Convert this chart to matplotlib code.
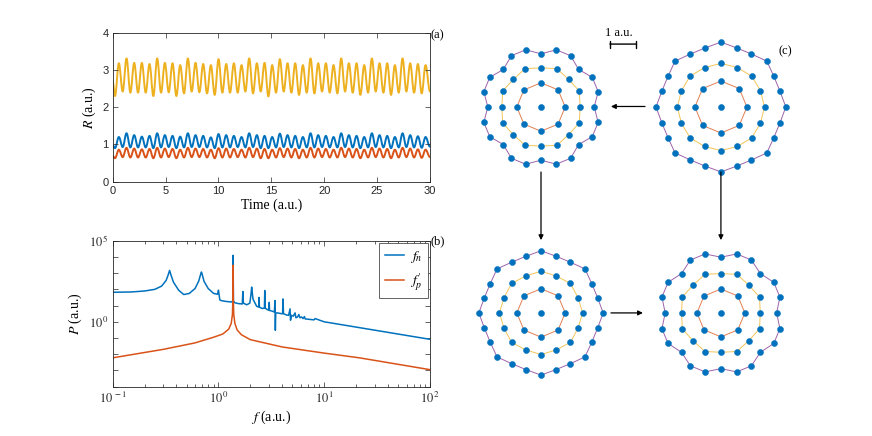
import numpy as np
import matplotlib
matplotlib.use('Agg')
import matplotlib.pyplot as plt
from matplotlib.path import Path
from matplotlib.patches import PathPatch
from matplotlib.ticker import FixedLocator, FuncFormatter, NullFormatter

plt.rcParams['font.family'] = 'Liberation Sans'
plt.rcParams['mathtext.fontset'] = 'stix'

# MATLAB default colours
c_blue = '#0072BD'
c_orange = '#D95319'
c_yellow = '#EDB120'
c_purple = '#7E2F8E'
c_axis = '#262626'

#####################
# (a) R(t): extrema (trough, peak per period)
#####################
t_range = [0, 30]
t_ext_first = 0.22
t_ext_last = 29.58

yel_start, yel_end = 2.68, 2.42
yel_trough = [2.30, 2.42, 2.39, 2.39, 2.39, 2.30, 2.39, 2.40, 2.30, 2.37,
              2.42, 2.40, 2.37, 2.33, 2.39, 2.39, 2.39, 2.42, 2.37, 2.42,
              2.29, 2.39, 2.42, 2.39, 2.33, 2.39, 2.37, 2.42, 2.39, 2.37,
              2.42, 2.39, 2.33, 2.39, 2.42, 2.39, 2.33, 2.39, 2.42, 2.39, 2.37]
yel_peak = [3.18, 3.31, 3.19, 3.19, 3.16, 3.31, 3.19, 3.18, 3.13, 3.31,
            3.19, 3.16, 3.13, 3.29, 3.16, 3.18, 3.13, 3.31, 3.18, 3.19,
            3.13, 3.29, 3.18, 3.18, 3.13, 3.31, 3.18, 3.18, 3.13, 3.31,
            3.18, 3.18, 3.13, 3.31, 3.18, 3.18, 3.13, 3.31, 3.18, 3.16, 3.13]

blu_start, blu_end = 0.98, 0.94
blu_trough = [0.90, 0.93, 0.92, 0.92, 0.92, 0.90, 0.92, 0.93, 0.90, 0.92,
              0.93, 0.93, 0.92, 0.90, 0.92, 0.92, 0.93, 0.92, 0.93, 0.90,
              0.90, 0.92, 0.93, 0.92, 0.90, 0.92, 0.92, 0.93, 0.92, 0.92,
              0.93, 0.92, 0.90, 0.92, 0.93, 0.92, 0.90, 0.92, 0.93, 0.92, 0.91]
blu_peak = [1.20, 1.30, 1.25, 1.21, 1.23, 1.30, 1.25, 1.23, 1.21, 1.30,
            1.25, 1.23, 1.19, 1.28, 1.25, 1.23, 1.20, 1.30, 1.25, 1.23,
            1.20, 1.29, 1.25, 1.23, 1.20, 1.30, 1.25, 1.23, 1.20, 1.30,
            1.25, 1.23, 1.20, 1.30, 1.25, 1.23, 1.20, 1.30, 1.25, 1.22, 1.20]

ora_start, ora_end = 0.69, 0.66
ora_trough = [0.63, 0.66, 0.65, 0.65, 0.65, 0.63, 0.65, 0.66, 0.63, 0.65,
              0.66, 0.66, 0.65, 0.63, 0.65, 0.65, 0.66, 0.65, 0.66, 0.63,
              0.63, 0.65, 0.66, 0.65, 0.63, 0.65, 0.65, 0.66, 0.65, 0.65,
              0.66, 0.65, 0.63, 0.65, 0.66, 0.65, 0.63, 0.65, 0.66, 0.65, 0.64]
ora_peak = [0.86, 0.91, 0.89, 0.87, 0.88, 0.91, 0.89, 0.88, 0.86, 0.91,
            0.89, 0.88, 0.86, 0.90, 0.89, 0.88, 0.86, 0.91, 0.89, 0.88,
            0.86, 0.90, 0.89, 0.88, 0.86, 0.91, 0.89, 0.88, 0.86, 0.91,
            0.89, 0.88, 0.86, 0.91, 0.89, 0.88, 0.86, 0.91, 0.89, 0.87, 0.86]

#####################
# (b) spectra, f and log10(P)
#####################
fn_f = [0.1, 0.15, 0.2, 0.25, 0.29, 0.32, 0.335, 0.345, 0.355, 0.375,
        0.42, 0.47, 0.53, 0.6, 0.65, 0.68, 0.69, 0.70, 0.73, 0.8,
        0.9, 0.98, 1.0, 1.03, 1.07, 1.2, 1.33, 1.365, 1.375, 1.385,
        1.42, 1.55, 1.68, 1.70, 1.72, 1.85, 1.98, 2.03, 2.06, 2.12,
        2.3, 2.40, 2.42, 2.44, 2.6, 2.72, 2.74, 2.76, 2.9, 3.0,
        3.02, 3.04, 3.25, 3.38, 3.42, 3.45, 3.48, 3.6, 3.95, 4.04,
        4.07, 4.12, 4.4, 4.6, 4.75, 4.8, 4.9, 5.1, 5.3, 5.4,
        5.6, 5.75, 5.9, 6.1, 6.3, 6.5, 6.6, 7.5, 8.0, 8.2, 9.5, 10, 100]
fn_logP = [1.82, 1.84, 1.90, 2.00, 2.20, 2.55, 2.90, 3.17, 2.90, 2.45,
           1.95, 1.68, 1.75, 2.05, 2.50, 2.95, 3.07, 2.95, 2.50, 2.05,
           1.75, 1.70, 1.95, 1.35, 1.30, 1.25, 1.22, 1.30, 4.10, 1.30,
           1.18, 1.12, 1.10, 1.87, 1.15, 1.05, 1.15, 1.70, 2.14, 1.40,
           0.95, 0.92, 1.50, 0.90, 0.82, 0.85, 1.93, 0.85, 0.75, 0.72,
           1.20, 0.70, 0.65, 0.60, 1.31, -0.52, 0.55, 0.55, 0.50, 0.50,
           1.41, 0.50, 0.42, 0.40, 0.80, 0.10, 0.40, 0.35, 0.55, 0.25,
           0.30, 0.45, 0.25, 0.30, 0.20, 0.32, 0.18, 0.14, 0.12, 0.20, 0.05, 0.0, -1.08]

fp_f = [0.1, 0.3, 0.6, 0.9, 1.1, 1.25, 1.32, 1.355, 1.368, 1.375,
        1.382, 1.395, 1.43, 1.5, 1.65, 2.0, 4.0, 10, 21.5, 100]
fp_logP = [-2.22, -1.70, -1.30, -0.95, -0.75, -0.45, -0.10, 0.45, 1.30, 3.49,
           1.30, 0.45, -0.10, -0.50, -0.80, -1.10, -1.55, -1.93, -2.22, -2.95]

#####################
# (c) shell clusters 1-8-16-24
#####################
ring_sizes = [8, 16, 24]
ring_colors = [c_orange, c_yellow, c_purple]
cluster_x = [0.0, 6.92, 0.0, 6.92]
cluster_y = [0.0, 0.0, -7.92, -7.92]
ring_radius = [[0.93, 1.55, 2.20],
               [1.00, 1.66, 2.40],
               [0.93, 1.57, 2.30],
               [0.92, 1.56, 2.28]]
ring_warp = [[0.0, -0.03, -0.07],
             [0.0, 0.01, 0.04],
             [0.0, 0.02, 0.04],
             [0.0, -0.03, -0.06]]


def tidy_axes(ax):
    for s in ax.spines.values():
        s.set_color(c_axis)
        s.set_linewidth(0.6)
    ax.tick_params(which='both', direction='in', top=True, right=True,
                   colors=c_axis, width=0.5, labelsize=8, pad=3)
    ax.tick_params(which='major', length=3.5)
    ax.tick_params(which='minor', length=2)


def series(start, trough, peak, end):
    return np.concatenate([[start], np.column_stack((trough, peak)).ravel(), [end]])


def smooth_line(ax, t, y, color, lw=1.4):
    # cubic pieces with flat tangents at each extremum
    verts = [(t[0], y[0])]
    codes = [Path.MOVETO]
    for i in range(len(t) - 1):
        dt = t[i + 1] - t[i]
        verts += [(t[i] + 0.36 * dt, y[i]), (t[i + 1] - 0.36 * dt, y[i + 1]), (t[i + 1], y[i + 1])]
        codes += [Path.CURVE4] * 3
    ax.add_patch(PathPatch(Path(verts, codes), fill=False, edgecolor=color, lw=lw,
                           joinstyle='round', capstyle='round'))


fig = plt.figure(figsize=(8.72, 4.36), dpi=100)

# ---- (a)
ax_a = fig.add_axes([112.7 / 872, 1 - 181.7 / 436, 317.3 / 872, 149 / 436])
t_ext = np.linspace(t_ext_first, t_ext_last, 2 * len(yel_peak))
t = np.concatenate([[t_range[0]], t_ext, [t_range[1]]])

smooth_line(ax_a, t, series(blu_start, blu_trough, blu_peak, blu_end), c_blue)
smooth_line(ax_a, t, series(ora_start, ora_trough, ora_peak, ora_end), c_orange)
smooth_line(ax_a, t, series(yel_start, yel_trough, yel_peak, yel_end), c_yellow)
ax_a.set_xlim(0, 30)
ax_a.set_ylim(0, 4)
ax_a.set_xticks([0, 5, 10, 15, 20, 25, 30])
ax_a.set_yticks([0, 1, 2, 3, 4])
tidy_axes(ax_a)
ax_a.set_xlabel('Time (a.u.)', family='Liberation Serif', fontsize=10, labelpad=2)
ax_a.set_ylabel(r'$R$ (a.u.)', family='Liberation Serif', fontsize=10, labelpad=3)

# ---- (b)
ax_b = fig.add_axes([112.7 / 872, 1 - 386.7 / 436, 317.3 / 872, 146 / 436])
ax_b.plot(fn_f, 10.0 ** np.array(fn_logP), color=c_blue, lw=1.1, label=r'$f_n$')
ax_b.plot(fp_f, 10.0 ** np.array(fp_logP), color=c_orange, lw=1.1, label=r'$f_p^{\prime}$')
ax_b.set_xscale('log')
ax_b.set_yscale('log')
ax_b.set_xlim(0.1, 100)
ax_b.set_ylim(1e-4, 1e5)
ax_b.xaxis.set_major_locator(FixedLocator([0.1, 1, 10, 100]))
ax_b.xaxis.set_minor_locator(FixedLocator([m * 10.0 ** e for e in (-1, 0, 1) for m in range(2, 10)]))
ax_b.yaxis.set_major_locator(FixedLocator([1, 1e5]))
ax_b.yaxis.set_minor_locator(FixedLocator([10.0 ** e for e in range(-4, 5)]))
dec_fmt = FuncFormatter(lambda v, pos: r'$10^{\,%d}$' % int(round(np.log10(v))))
ax_b.xaxis.set_major_formatter(dec_fmt)
ax_b.yaxis.set_major_formatter(dec_fmt)
ax_b.xaxis.set_minor_formatter(NullFormatter())
ax_b.yaxis.set_minor_formatter(NullFormatter())
tidy_axes(ax_b)
ax_b.tick_params(labelsize=9)
ax_b.yaxis.set_tick_params(which='minor', length=3.5)
ax_b.set_xlabel(r'$f$ (a.u.)', family='Liberation Serif', fontsize=10, labelpad=2)
ax_b.set_ylabel(r'$P$ (a.u.)', family='Liberation Serif', fontsize=10, labelpad=3)
leg = ax_b.legend(loc='upper right', bbox_to_anchor=(0.994, 0.984), borderaxespad=0,
                  fontsize=10, handlelength=1.4, handletextpad=0.4, labelspacing=0.5,
                  fancybox=False, framealpha=1, borderpad=0.4)
leg.get_frame().set_edgecolor(c_axis)
leg.get_frame().set_linewidth(0.5)

# ---- (c)
ax_c = fig.add_axes([460 / 872, 1 - 400 / 436, 350 / 872, 385 / 436])
ax_c.set_xlim((460 - 541) / 26, (810 - 541) / 26)
ax_c.set_ylim((107 - 400) / 26, (107 - 15) / 26)
ax_c.axis('off')

for cx, cy, radii, warps in zip(cluster_x, cluster_y, ring_radius, ring_warp):
    xs, ys = [cx], [cy]
    for n, col, R, a in zip(ring_sizes, ring_colors, radii, warps):
        th = np.pi / 2 + 2 * np.pi * np.arange(n) / n
        r = R * (1 + a * np.cos(8 * (th - np.pi / 2)))
        px = cx + r * np.cos(th)
        py = cy + r * np.sin(th)
        ax_c.plot(np.append(px, px[0]), np.append(py, py[0]), color=col, lw=0.7,
                  alpha=0.75, zorder=1)
        xs.extend(px)
        ys.extend(py)
    ax_c.plot(xs, ys, 'o', color=c_blue, ms=4.4, mec=c_blue, mew=0.3, zorder=2)

arrow = dict(arrowstyle='-|>', color='k', lw=0.9, mutation_scale=7, shrinkA=0, shrinkB=0)
ax_c.annotate('', xy=(2.69, 0.02), xytext=(4.0, 0.02), arrowprops=arrow)
ax_c.annotate('', xy=(0.0, -5.12), xytext=(0.0, -2.5), arrowprops=arrow)
ax_c.annotate('', xy=(6.92, -5.12), xytext=(6.92, -2.5), arrowprops=arrow)
ax_c.annotate('', xy=(3.92, -7.92), xytext=(2.69, -7.92), arrowprops=arrow)

# scale bar, 1 a.u.
ax_c.annotate('', xy=(3.65, 2.42), xytext=(2.65, 2.42),
              arrowprops=dict(arrowstyle='|-|', color='k', lw=1.0, mutation_scale=2.5,
                              shrinkA=0, shrinkB=0))
ax_c.text(3.0, 2.85, '1 a.u.', family='Liberation Serif', fontsize=9, ha='center', va='center')

# panel labels
fig.text(430 / 872, 1 - 35 / 436, '(a)', family='Liberation Serif', fontsize=9, va='center')
fig.text(430 / 872, 1 - 241 / 436, '(b)', family='Liberation Serif', fontsize=9, va='center')
fig.text(778 / 872, 1 - 51 / 436, '(c)', family='Liberation Serif', fontsize=9, va='center')

fig.savefig('out.png', dpi=100)
